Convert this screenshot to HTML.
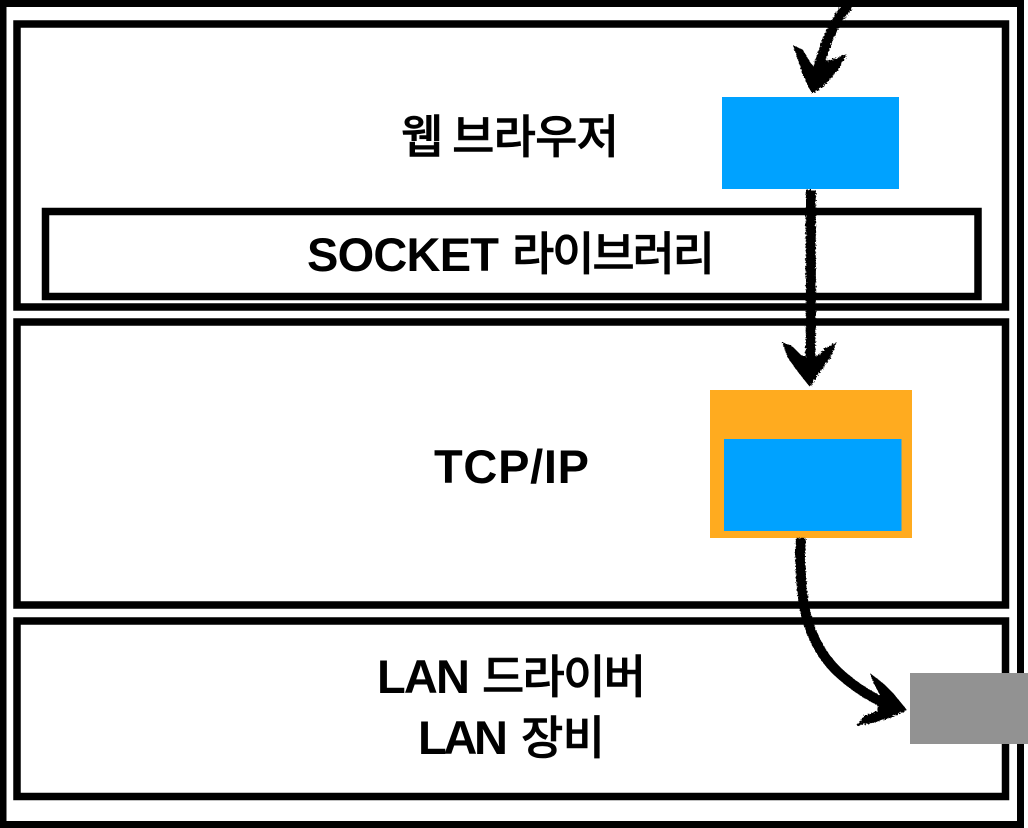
<!DOCTYPE html>
<html><head><meta charset="utf-8"><style>
html,body{margin:0;padding:0;background:#fff;width:1028px;height:828px;overflow:hidden}
svg{display:block}
text{font-family:"Liberation Sans","Noto Sans CJK KR",sans-serif;font-weight:700;font-size:47px;fill:#000}
.k{font-family:"Noto Sans CJK KR","Liberation Sans",sans-serif;font-weight:500;font-size:46px;stroke:#000;stroke-width:.6px}
</style></head><body>
<svg width="1028" height="828" viewBox="0 0 1028 828" xmlns="http://www.w3.org/2000/svg">
<defs>
<filter id="rough" x="-30%" y="-30%" width="160%" height="160%">
<feTurbulence type="fractalNoise" baseFrequency="0.6" numOctaves="2" seed="4"/>
<feDisplacementMap in="SourceGraphic" scale="4"/>
</filter>
</defs>
<rect width="1028" height="828" fill="#fff"/>
<g fill="none" stroke="#000">
<rect x="3" y="3.5" width="1017.5" height="821" stroke-width="7"/>
<rect x="17" y="24" width="988.5" height="283" stroke-width="7.5"/>
<rect x="17" y="322" width="988.5" height="283" stroke-width="7.5"/>
<rect x="17" y="621" width="988.5" height="175.5" stroke-width="7.5"/>
<rect x="45.5" y="211.5" width="932.5" height="85" stroke-width="7.5"/>
</g>
<rect x="722" y="97" width="177" height="92" fill="#00a2ff"/>
<rect x="710" y="390" width="202" height="148" fill="#ffab1f"/>
<rect x="724" y="439" width="177.500" height="92" fill="#00a2ff"/>
<rect x="910" y="673" width="118" height="71" fill="#929292"/>

<text class="k" x="401" y="153" textLength="218" lengthAdjust="spacing">웹 브라우저</text>
<text x="307" y="271" textLength="192" lengthAdjust="spacing">SOCKET</text>
<text class="k" x="512" y="270" textLength="203" lengthAdjust="spacing">라이브러리</text>
<text x="434" y="483" textLength="155" lengthAdjust="spacing">TCP/IP</text>
<text x="377" y="693" textLength="93" lengthAdjust="spacing">LAN</text>
<text class="k" x="482" y="693" textLength="164" lengthAdjust="spacing">드라이버</text>
<text x="418" y="754" textLength="90" lengthAdjust="spacing">LAN</text>
<text class="k" x="521" y="754" textLength="84" lengthAdjust="spacing">장비</text>

<g filter="url(#rough)">
<g fill="none" stroke="#000" stroke-width="10" stroke-linecap="butt">
<path d="M849 5 C838 16 830 32 824 50 L816 74"/>
<path d="M811 190 C810 240 812 300 810 370"/>
<path d="M801 538 C799 570 802 590 804 605 C808 630 820 655 838 672 C852 685 868 696 890 706"/>
</g>
<g fill="#000">
<path d="M793 45 L803 50 L810 62 L815 68 L825 62 L847 54 L838 70 L825 85 L812 94 L803 75 Z"/>
<path d="M782 342 L792 346 L802 356 L818 356 L825 348 L837 342 L830 358 L820 372 L810 387 L798 372 L788 358 Z"/>
<path d="M870 673 L884 684 L893 693 L907 710 L890 718 L872 723 L856 726 L864 716 L877 711 L880 695 L874 684 Z"/>
</g>
</g>
</svg>
</body></html>
